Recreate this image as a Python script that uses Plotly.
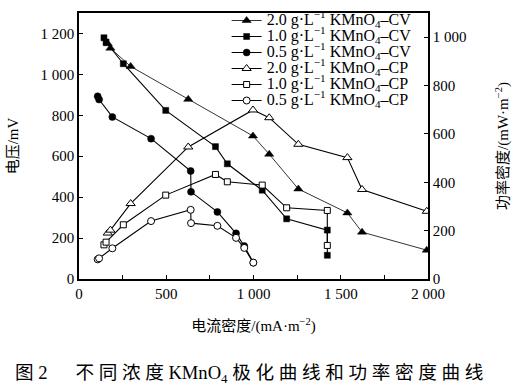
import plotly.graph_objects as go

# ---- data ----
# current density, mA/m^2
x_20 = [165, 180, 296, 626, 997, 1090, 1257, 1538, 1622, 1993]
x_10 = [143, 155, 254, 497, 782, 850, 1050, 1190, 1423, 1423]
x_05 = [107, 115, 191, 413, 640, 642, 793, 900, 947, 999]
# cell voltage, mV (left axis)
v_20 = [1150, 1128, 1039, 878, 699, 610, 440, 323, 229, 141]
v_10 = [1179, 1158, 1052, 824, 647, 563, 434, 294, 239, 116]
v_05 = [893, 877, 792, 686, 528, 426, 328, 223, 161, 80]
# power density, mW/m^2 (2.0 on right axis; 1.0 and 0.5 drawn on left scale as in the original)
p_20 = [190, 202, 312, 546, 699, 667, 557, 502, 370, 280]
p_10 = [167, 180, 265, 410, 511, 475, 459, 348, 335, 164]
p_05 = [96, 101, 150, 283, 338, 273, 260, 201, 152, 80]

conc = ["2.0", "1.0", "0.5"]
x_ticks = [0, 500, 1000, 1500, 2000]
x_ticktext = ["0", "500", "1 000", "1 500", "2 000"]
yl_ticks = [0, 200, 400, 600, 800, 1000, 1200]
yl_ticktext = ["0", "200", "400", "600", "800", "1 000", "1 200"]
yr_ticks = [0, 200, 400, 600, 800, 1000]
yr_ticktext = ["0", "200", "400", "600", "800", "1 000"]

SERIF = "Liberation Serif, Times New Roman, Noto Sans CJK SC, serif"

# plot area geometry (pixels) used to place the legend rows
PLOT_TOP, PLOT_H = 13, 266
ROW0, ROW_STEP = 20.5, 16.0


def label(c, kind):
    return ('<span style="font-size:16px">' + c + " g·L<sup>−1</sup> KMnO<sub>4</sub>–" + kind + "</span>")


legend_ids = ["legend", "legend2", "legend3", "legend4", "legend5", "legend6"]

fig = go.Figure()

cv_sets = [(x_20, v_20, "triangle-up", 8, 0.8), (x_10, v_10, "square", 6, 1.1), (x_05, v_05, "circle", 7, 1.1)]
for i, (c, (xs, ys, sym, sz, lw)) in enumerate(zip(conc, cv_sets)):
    fig.add_trace(go.Scatter(
        x=xs, y=ys, mode="lines+markers", name=label(c, "CV"),
        line=dict(color="black", width=lw),
        marker=dict(symbol=sym, size=sz, color="black", line=dict(color="black", width=0.5)),
        yaxis="y", legend=legend_ids[i]))

cp_sets = [(x_20, p_20, "triangle-up", 8, "y2"), (x_10, p_10, "square", 6, "y"), (x_05, p_05, "circle", 7, "y")]
for i, (c, (xs, ys, sym, sz, ax)) in enumerate(zip(conc, cp_sets)):
    fig.add_trace(go.Scatter(
        x=xs, y=ys, mode="lines+markers", name=label(c, "CP"),
        line=dict(color="black", width=1.1),
        marker=dict(symbol=sym, size=sz, color="white", line=dict(color="black", width=1)),
        yaxis=ax, legend=legend_ids[i + 3]))

tickfont = dict(family=SERIF, size=15, color="black")
titlefont = dict(family=SERIF, size=15, color="black")

caption = ("图 2\u3000\u2002不 同 浓 度 KMnO<sub>4</sub> "
           "极 化 曲 线 和 功 率 密 度 曲 线")

legends = {}
for i, lid in enumerate(legend_ids):
    py = ROW0 + ROW_STEP * i
    legends[lid] = dict(x=0.423, y=1 - (py - PLOT_TOP) / PLOT_H, xanchor="left", yanchor="middle",
                        bgcolor="rgba(0,0,0,0)", borderwidth=0,
                        font=dict(family=SERIF, size=11, color="black"), itemwidth=30)

fig.update_layout(
    width=521, height=386,
    template=None,
    paper_bgcolor="white", plot_bgcolor="white",
    margin=dict(l=79, r=93, t=13, b=107, autoexpand=False),
    showlegend=True,
    **legends,
    xaxis=dict(range=[0, 2000], tickvals=x_ticks, ticktext=x_ticktext,
               ticks="inside", ticklen=4, tickwidth=1.2, tickcolor="black",
               minor=dict(tickvals=[250, 750, 1250, 1750], ticks="inside", ticklen=4, tickcolor="black", tickwidth=1.2),
               showline=True, linecolor="black", linewidth=1.5, mirror=True,
               showgrid=False, zeroline=False, tickfont=tickfont,
               title=dict(text="电流密度/(mA·m<sup>−2</sup>)", font=titlefont, standoff=20)),
    yaxis=dict(range=[0, 1300], tickvals=yl_ticks, ticktext=yl_ticktext,
               ticks="inside", ticklen=4, tickwidth=1.2, tickcolor="black",
               showline=True, linecolor="black", linewidth=1.5,
               showgrid=False, zeroline=False, tickfont=tickfont,
               title=dict(text="电压/mV", font=titlefont, standoff=18)),
    yaxis2=dict(range=[0, 1100], tickvals=yr_ticks, ticktext=yr_ticktext, overlaying="y", side="right",
                ticks="inside", ticklen=4, tickwidth=1.2, tickcolor="black",
                showline=True, linecolor="black", linewidth=1.5,
                showgrid=False, zeroline=False, tickfont=tickfont,
                title=dict(text="功率密度/(mW·m<sup>−2</sup>)", font=titlefont, standoff=32)),
    annotations=[dict(
        text=caption,
        xref="paper", yref="paper", x=-0.189, y=-0.357, xanchor="left", yanchor="middle",
        showarrow=False, font=dict(family=SERIF, size=18.6, color="black"))],
)

fig.write_html("out.html", config={"displayModeBar": False},
               post_script="document.body.style.margin='0';document.body.style.overflow='hidden';")
